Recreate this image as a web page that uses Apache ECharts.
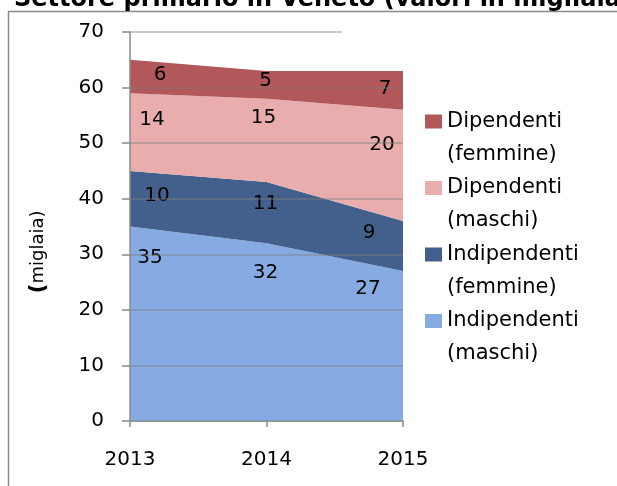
<!DOCTYPE html>
<html>
<head>
<meta charset="utf-8">
<script src="https://cdn.jsdelivr.net/npm/echarts@6/dist/echarts.min.js"></script>
<style>
html,body{margin:0;padding:0;background:#fff;}
#chart{width:617px;height:486px;}
</style>
</head>
<body>
<div id="chart"></div>
<script>
var titleText = 'Settore primario in Veneto (valori in migliaia)';
var yAxisTitle = '(miglaia)';
var years = ['2013', '2014', '2015'];
var yTicks = [0, 10, 20, 30, 40, 50, 60, 70];
var seriesNames = ['Indipendenti\n(maschi)', 'Indipendenti\n(femmine)', 'Dipendenti\n(maschi)', 'Dipendenti\n(femmine)'];
var indipMaschi = [35, 32, 27];
var indipFemmine = [10, 11, 9];
var dipMaschi = [14, 15, 20];
var dipFemmine = [6, 5, 7];

var values = [indipMaschi, indipFemmine, dipMaschi, dipFemmine];
var colors = ['#86abe3', '#435f8c', '#e9adad', '#b3585a'];
// label pixel offsets relative to each stacked point (styling only)
var labelOffsets = [
  [[20, 31], [-1, 30], [-35, 18]],
  [[27, 25], [-1, 22], [-34, 12]],
  [[22, 27], [-3, 19], [-21, 35]],
  [[30, 15], [-1, 10], [-18, 18]]
];

var FONT = 'DejaVu Sans';
var chart = echarts.init(document.getElementById('chart'));

var series = values.map(function (vals, i) {
  return {
    name: seriesNames[i],
    type: 'line',
    stack: 'total',
    symbol: 'circle',
    symbolSize: 0.01,
    showSymbol: true,
    lineStyle: { width: 0 },
    itemStyle: { color: colors[i] },
    areaStyle: { color: colors[i], opacity: 1 },
    z: 2,
    data: vals.map(function (v, j) {
      return {
        value: v,
        label: { offset: labelOffsets[i][j] }
      };
    }),
    label: { show: true, position: 'inside', color: '#000', fontFamily: FONT, fontSize: 20 }
  };
});

chart.setOption({
  animation: false,
  backgroundColor: '#fff',
  title: {
    text: titleText,
    left: 9,
    top: -17,
    textStyle: { fontFamily: FONT, fontWeight: 'bold', fontSize: 24, color: '#000' }
  },
  graphic: [
    { type: 'rect', shape: { x: 8.5, y: 11.5, width: 700, height: 600 }, style: { fill: 'none', stroke: '#8a8a8a', lineWidth: 1.5 }, z: -10 },
    { type: 'rect', shape: { x: 342, y: 28, width: 80, height: 8 }, style: { fill: '#fff' }, z: 100 },
    {
      type: 'text', x: 38, y: 252, rotation: Math.PI / 2, z: 100,
      style: {
        text: '{p|(}{t|' + yAxisTitle.slice(1) + '}',
        align: 'center', verticalAlign: 'middle',
        rich: {
          p: { fontFamily: FONT, fontSize: 22, fontWeight: 'bold', fill: '#000' },
          t: { fontFamily: FONT, fontSize: 18, fill: '#000' }
        }
      }
    }
  ],
  grid: { left: 130, right: 214, top: 32, bottom: 65 },
  legend: {
    orient: 'vertical',
    left: 425,
    top: 105,
    padding: 0,
    itemGap: 0.5,
    itemWidth: 17,
    itemHeight: 47,
    icon: 'path://M0,0H17V14H0Z M0,47H0.01V47.01H0Z',
    data: seriesNames.slice().reverse(),
    textStyle: { fontFamily: FONT, fontSize: 21, color: '#000', lineHeight: 33 }
  },
  xAxis: {
    type: 'category',
    data: years,
    boundaryGap: false,
    axisLine: { lineStyle: { color: '#8a8a8a', width: 1.5 } },
    axisTick: { show: true, length: 6, lineStyle: { color: '#8a8a8a', width: 1.5 } },
    axisLabel: { fontFamily: FONT, fontSize: 20, color: '#000', margin: 29 },
    splitLine: { show: false }
  },
  yAxis: {
    type: 'value',
    min: yTicks[0],
    max: yTicks[yTicks.length - 1],
    interval: 10,
    z: 3,
    axisLine: { show: true, lineStyle: { color: '#8a8a8a', width: 1.5 } },
    axisTick: { show: true, length: 8, lineStyle: { color: '#8a8a8a', width: 1.5 } },
    axisLabel: { fontFamily: FONT, fontSize: 20, color: '#000', margin: 26 },
    splitLine: { show: true, lineStyle: { color: 'rgba(128,128,128,0.55)', width: 1.5 } }
  },
  series: series
});
</script>
</body>
</html>
